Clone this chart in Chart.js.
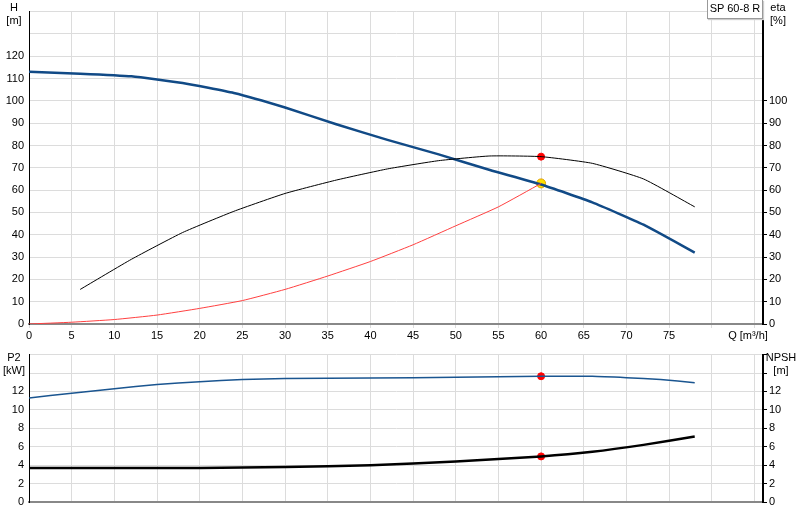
<!DOCTYPE html>
<html><head><meta charset="utf-8">
<script src="https://cdn.jsdelivr.net/npm/chart.js@4/dist/chart.umd.min.js"></script>
<style>
body{margin:0;background:#fff;font-family:Arial,"Liberation Sans",sans-serif;}
#wrap{position:relative;width:800px;height:520px;}
.c{position:absolute;left:0;width:800px;}
.lab{position:absolute;font-size:11px;color:#000;line-height:13px;text-align:center;}
#leg{position:absolute;left:707px;top:0;width:54px;height:18px;border:1px solid #999;border-top:none;font-size:11px;line-height:16px;text-align:center;background:#fff;box-shadow:1px 1px 1px #ccc;}
</style></head><body>
<div id="wrap">
<div class="c" style="top:0;height:345px"><canvas id="top"></canvas></div>
<div class="c" style="top:343px;height:177px"><canvas id="bot"></canvas></div>
<div class="lab" style="left:4px;top:1px;width:20px">H<br>[m]</div>
<div class="lab" style="left:766px;top:1px;width:24px">eta<br>[%]</div>
<div class="lab" style="left:2px;top:351px;width:24px">P2<br>[kW]</div>
<div class="lab" style="left:764px;top:351px;width:34px">NPSH<br>[m]</div>
<div class="lab" style="left:718px;top:329px;width:60px">Q [m³/h]</div>
<div id="leg">SP 60-8 R</div>
</div>
<script>
const hQ=[0,6,12,18,24,30,36,42,48,54,60,66,72,78];
const hV=[113,112.2,111,108,103.5,97,89.5,82.5,76,69,62.5,54.5,44.5,32];
const etaQ=[6,12,18,24,30,36,42,48,54,60,66,72,78];
const etaV=[15.5,29,41,50.5,58.5,64.5,69.5,73.2,75.3,75,72,65,52.5];
const sysQ=[0,5,10,15,20,25,30,35,40,45,50,55,60];
const sysV=[0,0.8,2,4,7,10.5,15.5,21.5,28,35.5,44,52.5,63];
const p2Q=[0,5,10,15,20,25,30,40,50,60,66,70,74,78];
const p2V=[11.3,11.8,12.3,12.75,13.05,13.3,13.4,13.45,13.55,13.65,13.65,13.5,13.3,12.95];
const npQ=[0,6,20,30,40,50,60,66,72,78];
const npV=[3.7,3.7,3.7,3.8,4.0,4.4,4.95,5.45,6.2,7.1];
const dutyQ=60, dutyEta=75, dutyH=63, dutyP2=13.65, dutyNp=4.95;
const xTicks=[0,5,10,15,20,25,30,35,40,45,50,55,60,65,70,75];
const pts=(a,b)=>a.map((x,i)=>({x:x,y:b[i]}));
const grid={color:'#dcdcdc',lineWidth:1};
const font={family:'Arial',size:11};
function fixW(w){return s=>{s.width=w;};}
function ds(data,color,w,extra){return Object.assign({data:data,borderColor:color,borderWidth:w,pointRadius:0,tension:0.15,fill:false},extra||{});}
new Chart(document.getElementById('top'),{type:'line',data:{datasets:[
 ds(pts(sysQ,sysV),'#ff4040',1),
 ds(pts(etaQ,etaV),'#000',1,{yAxisID:'y2'}),
 ds(pts(hQ,hV),'#114a86',2.5),
 {data:[{x:dutyQ,y:dutyEta}],yAxisID:'y2',pointRadius:3.5,pointBackgroundColor:'#ff0000',pointBorderColor:'#ff0000',showLine:false},
 {data:[{x:dutyQ,y:dutyH}],pointRadius:4.5,pointBackgroundColor:'#ffe000',pointBorderColor:'#e0a000',showLine:false}
]},options:{responsive:true,maintainAspectRatio:false,animation:false,layout:{padding:{top:0}},
 plugins:{legend:{display:false},tooltip:{enabled:false}},
 scales:{x:{type:'linear',min:0,max:86,grid:Object.assign({tickLength:4},grid),border:{color:'#888',width:2},
   afterBuildTicks:s=>{s.ticks=xTicks.concat([80,85]).map(v=>({value:v}));},
   ticks:{font:font,color:'#000',maxRotation:0,padding:1,callback:v=>v<80?v:''},afterFit:s=>{s.height=21;}},
  y:{min:0,max:140,grid:Object.assign({drawTicks:false},grid),border:{color:'#000'},afterBuildTicks:s=>{s.ticks=[];for(let v=0;v<=140;v+=10)s.ticks.push({value:v});},
   ticks:{font:font,color:'#000',padding:5,callback:v=>v<=120?v:''},afterFit:fixW(29)},
  y2:{position:'right',min:0,max:140,grid:{drawOnChartArea:false,tickLength:4,color:'#000'},border:{color:'#000',width:2},afterBuildTicks:s=>{s.ticks=[];for(let v=0;v<=100;v+=10)s.ticks.push({value:v});},
   ticks:{font:font,color:'#000',padding:2},afterFit:fixW(37)}}}});
new Chart(document.getElementById('bot'),{type:'line',data:{datasets:[
 ds(pts(p2Q,p2V),'#1a5590',1.5),
 ds(pts(npQ,npV),'#000',2.5,{yAxisID:'y2'}),
 {data:[{x:dutyQ,y:dutyP2}],pointRadius:3.5,pointBackgroundColor:'#ff0000',pointBorderColor:'#ff0000',showLine:false},
 {data:[{x:dutyQ,y:dutyNp}],yAxisID:'y2',pointRadius:3.5,pointBackgroundColor:'#ff0000',pointBorderColor:'#ff0000',showLine:false}
]},options:{responsive:true,maintainAspectRatio:false,animation:false,layout:{padding:{top:7}},
 plugins:{legend:{display:false},tooltip:{enabled:false}},
 scales:{x:{type:'linear',min:0,max:86,grid:Object.assign({drawTicks:false},grid),border:{color:'#888',width:2},
   afterBuildTicks:s=>{s.ticks=xTicks.concat([80,85]).map(v=>({value:v}));},
   ticks:{display:false},afterFit:s=>{s.height=18;}},
  y:{min:0,max:16,grid:Object.assign({drawTicks:false},grid),border:{color:'#000'},afterBuildTicks:s=>{s.ticks=[];for(let v=0;v<=16;v+=2)s.ticks.push({value:v});},
   ticks:{font:font,color:'#000',padding:5,callback:v=>v<=12?v:''},afterFit:fixW(29)},
  y2:{position:'right',min:0,max:16,grid:{drawOnChartArea:false,tickLength:4,color:'#000'},border:{color:'#000',width:2},afterBuildTicks:s=>{s.ticks=[];for(let v=0;v<=16;v+=2)s.ticks.push({value:v});},
   ticks:{font:font,color:'#000',padding:2,callback:v=>v<=12?v:''},afterFit:fixW(37)}}}});
</script></body></html>
